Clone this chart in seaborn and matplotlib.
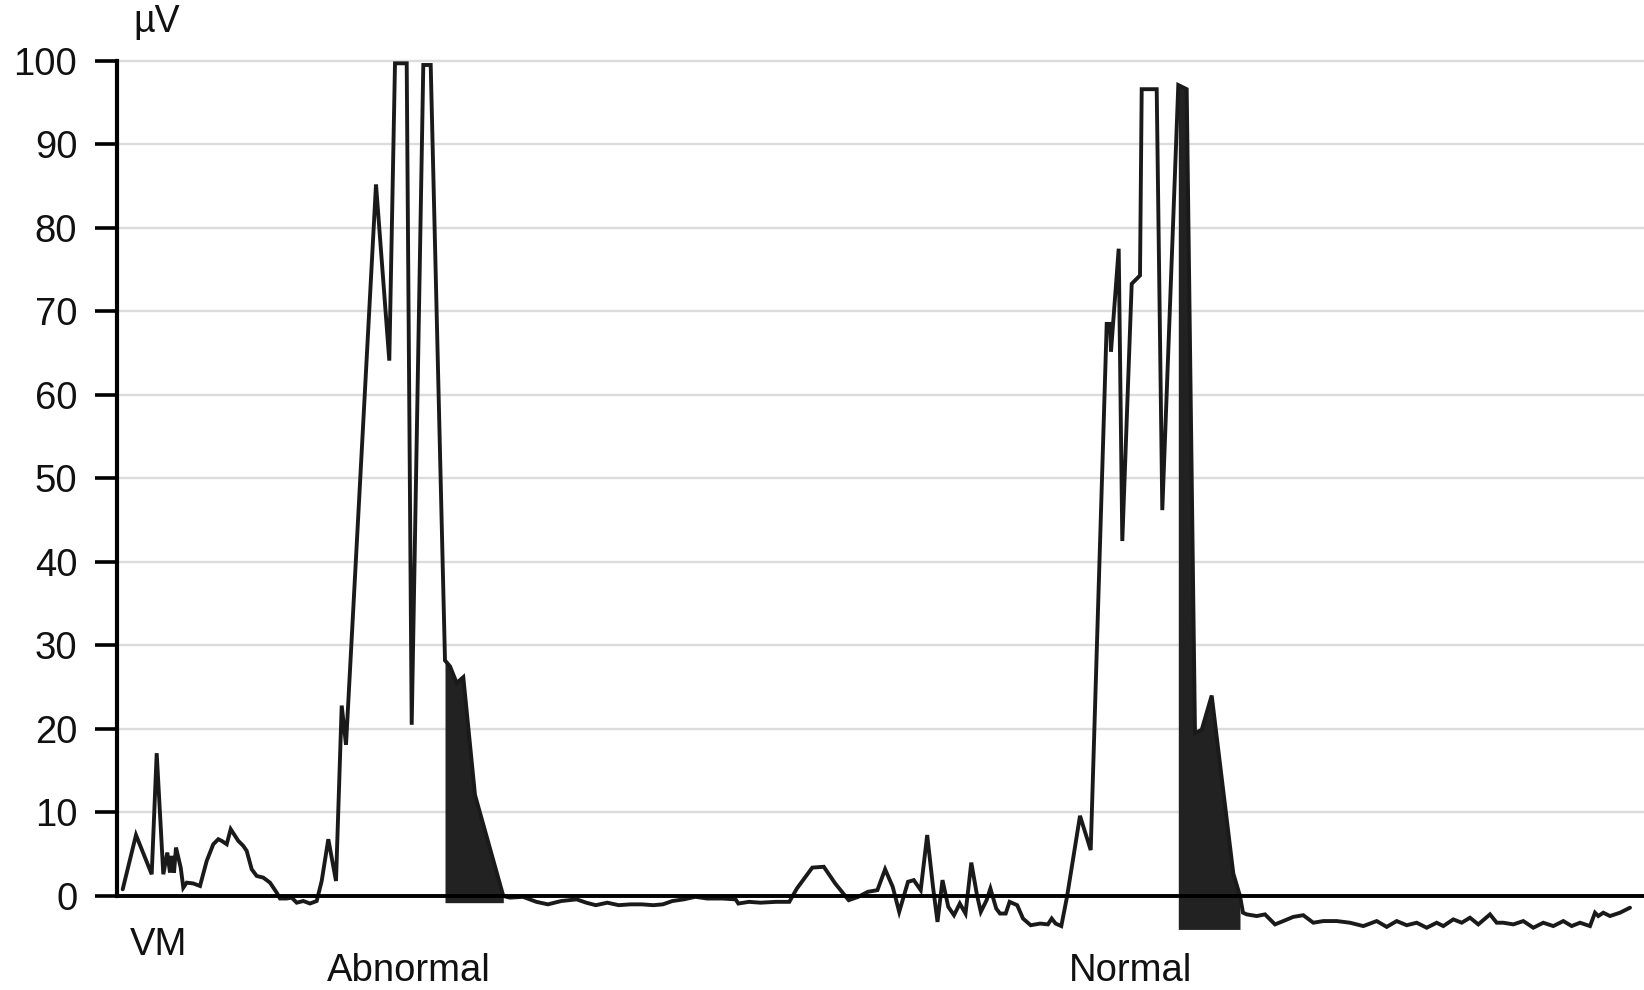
import numpy as np
import pandas as pd
import matplotlib
matplotlib.use("Agg")
import matplotlib.pyplot as plt
import seaborn as sns

# ---- data (x = sample position, y = microvolts) ----
sample = [
    122.7, 136.0, 151.7, 156.7, 163.3, 167.3, 170.0, 171.7, 174.0, 176.0,
    180.7, 183.3, 186.7, 193.3, 200.0, 206.7, 213.3, 218.3, 221.7, 226.7,
    230.7, 235.0, 238.3, 243.3, 246.7, 251.7, 256.7, 263.3, 270.0, 276.7,
    280.0, 286.7, 291.7, 296.7, 303.3, 310.0, 316.7, 321.7, 328.3, 336.0,
    341.7, 346.0, 376.0, 389.3, 395.0, 406.7, 411.7, 423.3, 430.7, 445.0,
    450.0, 456.7, 463.3, 475.0, 503.3, 510.0, 523.0, 536.4, 547.9, 561.3,
    576.6, 586.2, 595.8, 607.3, 618.8, 630.3, 641.8, 653.3, 662.8, 672.4,
    683.9, 695.4, 706.9, 722.2, 735.6, 738.3, 749.0, 760.5, 775.9, 789.3,
    796.9, 812.3, 823.8, 835.2, 848.7, 858.2, 867.8, 877.4, 885.1, 892.7,
    899.2, 908.0, 913.8, 920.7, 927.2, 933.0, 937.5, 942.5, 948.3, 954.0,
    959.8, 965.5, 971.3, 977.0, 980.8, 986.6, 990.4, 996.2, 1000.0, 1005.7,
    1009.6, 1017.2, 1023.0, 1030.7, 1040.2, 1047.9, 1051.7, 1055.6, 1061.3, 1067.0,
    1080.0, 1090.7, 1106.7, 1110.0, 1111.0, 1118.7, 1122.3, 1131.7, 1140.0, 1141.7,
    1156.7, 1162.3, 1178.3, 1186.7, 1195.0, 1201.7, 1211.7, 1233.3, 1240.0, 1243.0,
    1246.7, 1256.7, 1265.0, 1275.0, 1283.3, 1293.3, 1303.3, 1313.3, 1323.3, 1336.7,
    1350.0, 1363.3, 1376.7, 1386.7, 1396.7, 1406.7, 1416.7, 1426.7, 1436.7, 1443.3,
    1453.3, 1461.7, 1470.0, 1478.3, 1490.0, 1496.7, 1503.3, 1513.3, 1523.3, 1533.3,
    1543.3, 1553.3, 1563.3, 1571.7, 1580.0, 1590.0, 1595.0, 1598.3, 1603.3, 1610.0,
    1620.0, 1630.0,
]
microvolts = [
    0.8, 7.3, 2.6, 17.1, 2.6, 5.2, 2.8, 4.8, 2.8, 5.8,
    3.4, 1.0, 1.6, 1.5, 1.2, 4.2, 6.2, 6.8, 6.6, 6.2,
    8.0, 7.2, 6.6, 6.0, 5.4, 3.2, 2.4, 2.2, 1.6, 0.4,
    -0.3, -0.3, -0.2, -0.8, -0.6, -0.9, -0.6, 1.8, 6.8, 1.8,
    22.8, 18.1, 85.2, 64.1, 99.7, 99.7, 20.5, 99.5, 99.5, 28.2,
    27.5, 25.5, 26.2, 12.1, 0.0, -0.2, -0.1, -0.7, -1.0, -0.6,
    -0.4, -0.8, -1.1, -0.8, -1.1, -1.0, -1.0, -1.1, -1.0, -0.6,
    -0.4, -0.1, -0.3, -0.3, -0.4, -0.9, -0.7, -0.8, -0.7, -0.7,
    0.9, 3.4, 3.5, 1.5, -0.5, -0.1, 0.5, 0.7, 3.2, 1.1,
    -1.9, 1.7, 1.9, 0.7, 7.3, 1.1, -3.1, 1.9, -1.3, -2.3,
    -0.9, -2.1, 4.0, 0.1, -1.9, -0.5, 0.9, -1.5, -2.1, -2.1,
    -0.7, -1.1, -2.7, -3.5, -3.3, -3.4, -2.7, -3.3, -3.6, -0.1,
    9.6, 5.5, 68.5, 68.5, 65.2, 77.5, 42.5, 73.3, 74.3, 96.6,
    96.6, 46.2, 97.1, 96.6, 19.5, 19.9, 24.0, 2.7, 0.0, -2.0,
    -2.2, -2.4, -2.2, -3.4, -3.0, -2.5, -2.3, -3.2, -3.0, -3.0,
    -3.2, -3.6, -3.0, -3.7, -3.0, -3.5, -3.2, -3.8, -3.2, -3.6,
    -2.8, -3.2, -2.6, -3.4, -2.2, -3.2, -3.2, -3.4, -3.0, -3.8,
    -3.2, -3.6, -3.0, -3.6, -3.2, -3.6, -2.0, -2.4, -2.0, -2.4,
    -2.0, -1.4,
]

# shaded (filled) segments: start, end, baseline (µV)
fill_start = [445.0, 1178.3]
fill_end = [503.3, 1240.0]
fill_base = [-0.8, -4.0]

# text labels
label_text = ["VM", "Abnormal", "Normal"]
label_x = [159, 409, 1130]
label_y = [-5.9, -9.0, -9.0]

y_ticks = list(range(0, 101, 10))

# ---- figure ----
sns.set_theme(style="white")
plt.rcParams["font.family"] = ["Liberation Sans", "DejaVu Sans"]

W, H = 1644, 990
fig = plt.figure(figsize=(W / 100, H / 100), dpi=100)
ymin, ymax = -5, 100.5
ppu = 8.352  # pixels per µV
bottom_px = 94 - (0 - ymin) * ppu
ax = fig.add_axes([117.3 / W, bottom_px / H, 1 - 117.3 / W, (ymax - ymin) * ppu / H])

df = pd.DataFrame({"sample": sample, "uV": microvolts})

ax.yaxis.grid(True, color="#dcdcdc", linewidth=1.7)
ax.set_axisbelow(True)

t = np.array(sample)
v = np.array(microvolts)
for s, e, b in zip(fill_start, fill_end, fill_base):
    m = (t >= s) & (t <= e)
    ax.fill_between(t[m], v[m], b, color="#222222", linewidth=0, zorder=2)

sns.lineplot(data=df, x="sample", y="uV", sort=False, estimator=None,
             color="#1a1a1a", linewidth=2.8, ax=ax, zorder=3)
for ln in ax.lines:
    ln.set_clip_on(False)
    ln.set_solid_joinstyle("miter")

ax.axhline(0, color="black", linewidth=2.8, zorder=4)

ax.set_xlim(117.3, 1644)
ax.set_ylim(ymin, ymax)
ax.set_yticks(y_ticks)
ax.set_yticklabels([str(k) for k in y_ticks])
ax.set_xticks([])
ax.set_xlabel("")
ax.set_ylabel("")
ax.tick_params(axis="y", left=True, length=15.8, width=2.6, pad=13,
               labelsize=27.5, color="black", labelcolor="#111111")

for side in ["top", "right", "bottom"]:
    ax.spines[side].set_visible(False)
ax.spines["left"].set_bounds(0, 100)
ax.spines["left"].set_linewidth(3.0)
ax.spines["left"].set_color("black")

for txt, x, y in zip(label_text, label_x, label_y):
    ax.text(x, y, txt, ha="center", va="center", fontsize=27.5, color="#111111")
ax.text(133, 104.7, "\u00b5V", ha="left", va="center", fontsize=27, color="#111111",
        clip_on=False)

fig.savefig("out.png", dpi=100)
